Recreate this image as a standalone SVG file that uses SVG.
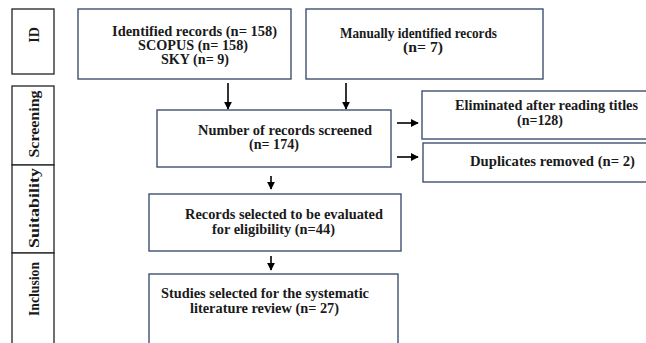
<svg xmlns="http://www.w3.org/2000/svg" width="646" height="343" viewBox="0 0 646 343">
<defs>
<marker id="ah" viewBox="0 0 10 10" refX="9" refY="5" markerWidth="5" markerHeight="5" orient="auto" markerUnits="strokeWidth">
<path d="M0,0 L10,5 L0,10 Z" fill="#000"/>
</marker>
<style>
.box{fill:#fff;stroke:#3e5070;stroke-width:1.4}
.side{fill:#fff;stroke:#222;stroke-width:1.3}
text{font-family:'Liberation Serif','DejaVu Serif',serif;font-weight:bold;font-size:14px;fill:#1a1a1a}
.c{text-anchor:middle}
.arr{stroke:#000;stroke-width:1.6;fill:none;marker-end:url(#ah)}
</style>
</defs>
<rect width="646" height="343" fill="#fff"/>
<g id="stage-id"><rect class="side" x="12" y="9" width="42" height="65"/><text class="c" transform="translate(39,35) rotate(-90)">ID</text></g>
<g id="stage-screening"><rect class="side" x="12" y="86" width="42" height="79"/><text class="c" transform="translate(39,124) rotate(-90)" textLength="67" lengthAdjust="spacingAndGlyphs">Screening</text></g>
<g id="stage-suitability"><rect class="side" x="12" y="165" width="42" height="88"/><text class="c" transform="translate(39,208) rotate(-90)" textLength="80" lengthAdjust="spacingAndGlyphs">Suitability</text></g>
<g id="stage-inclusion"><rect class="side" x="12" y="253" width="42" height="95"/><text class="c" transform="translate(39,289) rotate(-90)" textLength="54" lengthAdjust="spacingAndGlyphs">Inclusion</text></g>
<g id="identified"><rect class="box" x="78" y="9" width="213" height="70"/>
<text x="112" y="36" textLength="165" lengthAdjust="spacingAndGlyphs">Identified records (n= 158)</text>
<text x="138" y="50" textLength="110" lengthAdjust="spacingAndGlyphs">SCOPUS (n= 158)</text>
<text x="161" y="64" textLength="68" lengthAdjust="spacingAndGlyphs">SKY (n= 9)</text></g>
<g id="manual"><rect class="box" x="306" y="9" width="237" height="70"/>
<text x="340" y="38" textLength="157" lengthAdjust="spacingAndGlyphs">Manually identified records</text>
<text x="403" y="52" textLength="40" lengthAdjust="spacingAndGlyphs">(n= 7)</text></g>
<g id="screened"><rect class="box" x="157" y="110" width="234" height="57"/>
<text x="198" y="135" textLength="174" lengthAdjust="spacingAndGlyphs">Number of records screened</text>
<text x="249" y="149" textLength="50" lengthAdjust="spacingAndGlyphs">(n= 174)</text></g>
<g id="eliminated"><rect class="box" x="422" y="91" width="230" height="48"/>
<text x="455" y="110" textLength="183" lengthAdjust="spacingAndGlyphs">Eliminated after reading titles</text>
<text x="517" y="125" textLength="46" lengthAdjust="spacingAndGlyphs">(n=128)</text></g>
<g id="duplicates"><rect class="box" x="423" y="143" width="230" height="39"/>
<text x="470" y="166" textLength="165" lengthAdjust="spacingAndGlyphs">Duplicates removed (n= 2)</text></g>
<g id="eligibility"><rect class="box" x="149" y="194" width="252" height="57"/>
<text x="185" y="219" textLength="198" lengthAdjust="spacingAndGlyphs">Records selected to be evaluated</text>
<text x="212" y="234" textLength="123" lengthAdjust="spacingAndGlyphs">for eligibility (n=44)</text></g>
<g id="included"><rect class="box" x="149" y="274" width="249" height="75"/>
<text x="161" y="298" textLength="208" lengthAdjust="spacingAndGlyphs">Studies selected for the systematic</text>
<text x="190" y="313" textLength="149" lengthAdjust="spacingAndGlyphs">literature review (n= 27)</text></g>
<g id="connectors">
<line class="arr" x1="228" y1="83" x2="228" y2="109"/>
<line class="arr" x1="346" y1="83" x2="346" y2="109"/>
<line class="arr" x1="397" y1="123" x2="418" y2="123"/>
<line class="arr" x1="397" y1="157" x2="418" y2="157"/>
<line class="arr" x1="271" y1="176" x2="271" y2="189"/>
<line class="arr" x1="271" y1="256" x2="271" y2="270"/>
</g>
</svg>
